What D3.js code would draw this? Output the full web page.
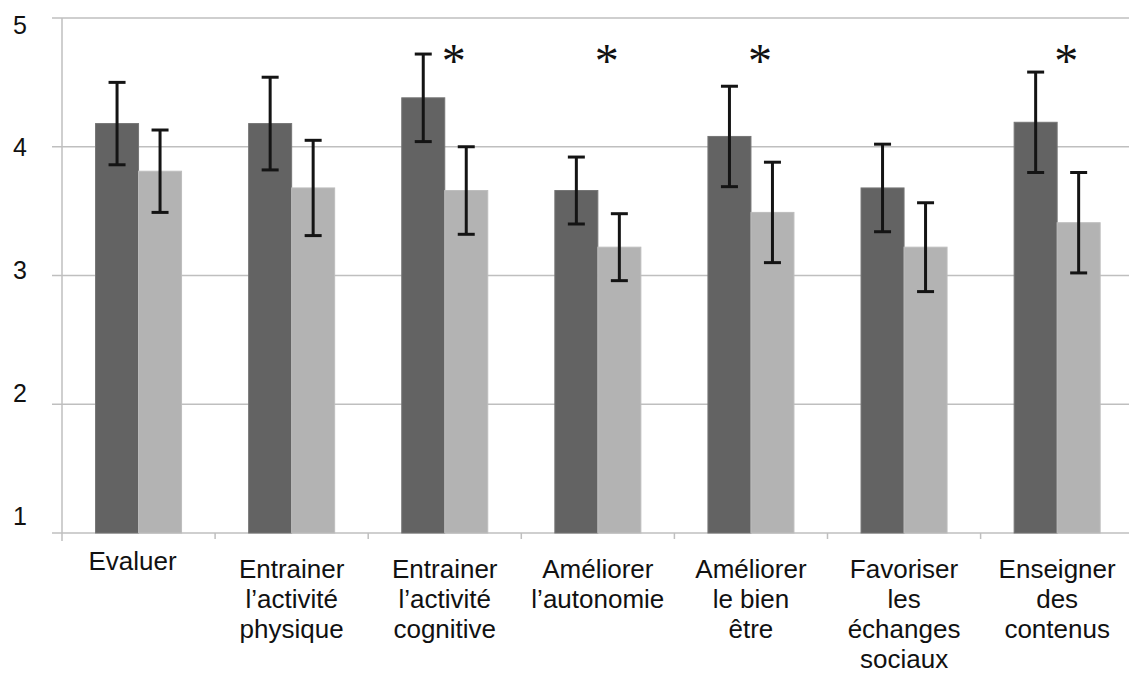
<!DOCTYPE html>
<html>
<head>
<meta charset="utf-8">
<script src="https://cdn.jsdelivr.net/npm/d3@7"></script>
<style>
  html, body { margin: 0; padding: 0; background: #fff; }
  svg { display: block; }
</style>
</head>
<body>
<svg id="chart" width="1129" height="673"></svg>
<script>
// ---- data ----
const categories = ["Evaluer", "Entrainer physique", "Entrainer cognitive", "Améliorer autonomie", "Améliorer bien être", "Favoriser échanges", "Enseigner contenus"];
const labelLines = [
  ["Evaluer"],
  ["Entrainer", "l’activité", "physique"],
  ["Entrainer", "l’activité", "cognitive"],
  ["Améliorer", "l’autonomie"],
  ["Améliorer", "le bien", "être"],
  ["Favoriser", "les", "échanges", "sociaux"],
  ["Enseigner", "des", "contenus"]
];
const series1 = [4.18, 4.18, 4.38, 3.66, 4.08, 3.68, 4.19];
const error1  = [0.32, 0.36, 0.34, 0.26, 0.39, 0.34, 0.39];
const series2 = [3.81, 3.68, 3.66, 3.22, 3.49, 3.22, 3.41];
const error2  = [0.32, 0.37, 0.34, 0.26, 0.39, 0.345, 0.39];
const significant = [false, false, true, true, true, false, true];
const yTicks = [1, 2, 3, 4, 5];
const starLevel = 4.72;

// ---- layout ----
const svg = d3.select("#chart");
const W = 1129;
const left = 62, bandStep = 153.1;
const y = d3.scaleLinear().domain([1, 5]).range([533, 18]);
const yLabel = d3.scaleLinear().domain([1, 5]).range([516, 24.5]);
const x = d3.scaleBand().domain(categories).range([left, left + bandStep * categories.length]).padding(0);
const xs = d3.scaleBand().domain(["s1", "s2"]).range([0, x.bandwidth()]).paddingInner(0).paddingOuter(0.78);

const gridColor = "#bfbfbf";

// gridlines
svg.append("g").selectAll("line").data(yTicks.filter(d => d > 1)).join("line")
  .attr("x1", 52).attr("x2", W)
  .attr("y1", d => y(d)).attr("y2", d => y(d))
  .attr("stroke", gridColor).attr("stroke-width", 1.5);

// baseline and y axis
svg.append("line").attr("x1", 52).attr("x2", W).attr("y1", y(1)).attr("y2", y(1))
  .attr("stroke", gridColor).attr("stroke-width", 1.5);
svg.append("line").attr("x1", left).attr("x2", left).attr("y1", y(5)).attr("y2", y(1) + 8)
  .attr("stroke", gridColor).attr("stroke-width", 1.5);

// category ticks
svg.append("g").selectAll("line").data(categories.slice(1)).join("line")
  .attr("x1", d => x(d)).attr("x2", d => x(d))
  .attr("y1", y(1)).attr("y2", y(1) + 6)
  .attr("stroke", gridColor).attr("stroke-width", 1.5);

// y labels
svg.append("g").selectAll("text").data(yTicks).join("text")
  .attr("x", 27).attr("y", d => yLabel(d) + 9)
  .attr("text-anchor", "end")
  .attr("font-family", "Liberation Sans, Arial, sans-serif")
  .attr("font-size", 25).attr("fill", "#111")
  .text(d => d);

// bars
const rows = categories.map((c, i) => ({c, i, v1: series1[i], e1: error1[i], v2: series2[i], e2: error2[i]}));
const groups = svg.append("g").selectAll("g").data(rows).join("g")
  .attr("transform", d => `translate(${x(d.c)},0)`);

groups.append("rect")
  .attr("x", xs("s1")).attr("width", xs.bandwidth())
  .attr("y", d => y(d.v1)).attr("height", d => y(1) - y(d.v1))
  .attr("fill", "#636363").attr("stroke", "#757575").attr("stroke-width", 1);
groups.append("rect")
  .attr("x", xs("s2")).attr("width", xs.bandwidth())
  .attr("y", d => y(d.v2)).attr("height", d => y(1) - y(d.v2))
  .attr("fill", "#b3b3b3").attr("stroke", "#bdbdbd").attr("stroke-width", 1);

// error bars
function errBar(sel, key, vKey, eKey) {
  const cx = xs(key) + xs.bandwidth() / 2;
  const cap = 8.5;
  const g = sel.append("g").attr("stroke", "#141414").attr("stroke-width", 3).attr("fill", "none");
  g.append("line").attr("x1", cx).attr("x2", cx)
    .attr("y1", d => y(d[vKey] + d[eKey])).attr("y2", d => y(d[vKey] - d[eKey]));
  g.append("line").attr("x1", cx - cap).attr("x2", cx + cap)
    .attr("y1", d => y(d[vKey] + d[eKey])).attr("y2", d => y(d[vKey] + d[eKey]));
  g.append("line").attr("x1", cx - cap).attr("x2", cx + cap)
    .attr("y1", d => y(d[vKey] - d[eKey])).attr("y2", d => y(d[vKey] - d[eKey]));
}
errBar(groups, "s1", "v1", "e1");
errBar(groups, "s2", "v2", "e2");

// asterisks
const starSize = 48;
groups.filter(d => significant[d.i]).append("text")
  .attr("x", x.bandwidth() / 2 + 9)
  .attr("y", y(starLevel) + 0.47 * starSize)
  .attr("text-anchor", "middle")
  .attr("font-family", "Liberation Serif, Times New Roman, serif")
  .attr("font-size", starSize).attr("fill", "#111")
  .text("*");

// category labels
const labelX = d => x(d.c) + x.bandwidth() / 2 + (labelLines[d.i].length === 1 ? -6 : 0);
const lab = svg.append("g").selectAll("text").data(rows).join("text")
  .attr("x", labelX)
  .attr("y", d => labelLines[d.i].length === 1 ? 570 : 577.5)
  .attr("text-anchor", "middle")
  .attr("font-family", "Liberation Sans, Arial, sans-serif")
  .attr("font-size", 26).attr("fill", "#111");
lab.selectAll("tspan").data(d => labelLines[d.i].map(t => ({t, x: labelX(d)}))).join("tspan")
  .attr("x", d => d.x)
  .attr("dy", (d, i) => i === 0 ? 0 : 30.3)
  .text(d => d.t);
</script>
</body>
</html>
